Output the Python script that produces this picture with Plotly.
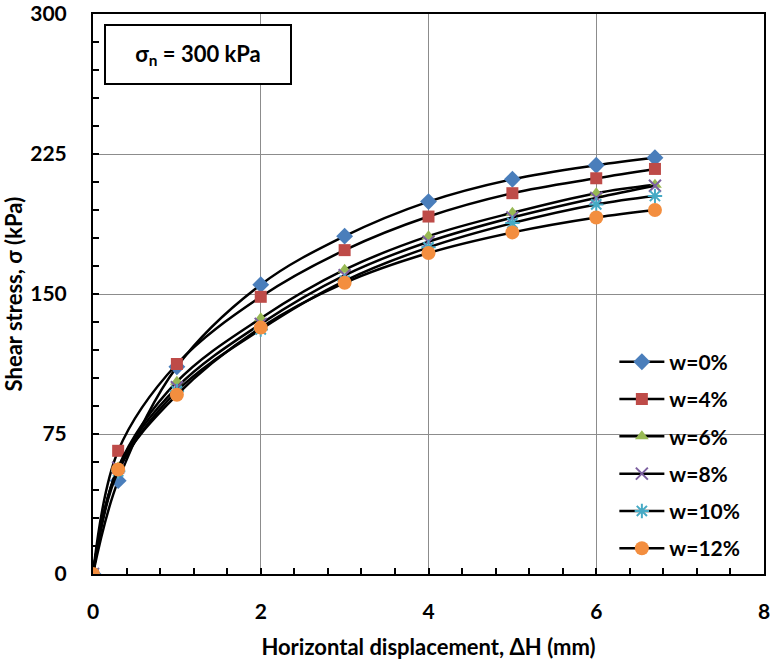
import plotly.graph_objects as go

# ---- data ----
displacement = [0, 0.3, 1, 2, 3, 4, 5, 6, 6.7]
w0 = [0, 50, 111, 155, 181, 199.5, 211.5, 219, 223]
w4 = [0, 66, 112.5, 148.5, 173.5, 191.5, 204, 212, 217]
w6 = [0, 57, 103, 137, 163, 181, 193.5, 204, 208.5]
w8 = [0, 57, 100, 134, 160, 178, 191, 201.5, 208]
w10 = [0, 55, 98, 131, 157, 175, 188, 198, 202.5]
w12 = [0, 56, 96, 132, 156, 172, 183, 191, 195]
series_names = ["w=0%", "w=4%", "w=6%", "w=8%", "w=10%", "w=12%"]
x_ticks = [0, 2, 4, 6, 8]
y_ticks = [0, 75, 150, 225, 300]

FONT = "Lato"
styles = [
    dict(symbol="diamond", color="#4A7EBB", size=13, line=dict(width=0)),
    dict(symbol="square", color="#BE4B48", size=12, line=dict(width=0)),
    dict(symbol="triangle-up", color="#98B954", size=12, line=dict(width=0)),
    dict(symbol="x-thin", color="#7D60A0", size=12, line=dict(width=2, color="#7D60A0")),
    dict(symbol="asterisk", color="#46AAC5", size=12, line=dict(width=2, color="#46AAC5")),
    dict(symbol="circle", color="#F38E3F", size=14, line=dict(width=0)),
]

fig = go.Figure()
for i, (name, ys) in enumerate(zip(series_names, [w0, w4, w6, w8, w10, w12])):
    fig.add_trace(go.Scatter(
        x=displacement, y=ys, name=name, mode="lines+markers",
        line=dict(color="black", width=2.5, shape="spline", smoothing=1.0),
        marker=styles[i], legendgroup=name,
    ))

axis_common = dict(
    showline=True, linecolor="black", linewidth=2, mirror=True,
    showgrid=True, gridcolor="#8C8C8C", gridwidth=1,
    ticks="inside", ticklen=6, tickcolor="black", tickwidth=1.5,
    tickfont=dict(family=FONT, size=21, color="black", weight="bold"),
    zeroline=False, ticklabeloverflow="allow", automargin=False,
)

fig.update_xaxes(
    range=[0, 8], tickvals=x_ticks,
    minor=dict(dtick=0.4, ticks="inside", ticklen=6, tickcolor="black", tickwidth=1.5, showgrid=False),
    title=dict(text="Horizontal displacement, ΔH (mm)",
               font=dict(family=FONT, size=22, color="black", weight="bold"), standoff=18),
    ticklabelstandoff=18,
    **axis_common,
)
fig.update_yaxes(
    range=[0, 300], tickvals=y_ticks,
    minor=dict(dtick=15, ticks="inside", ticklen=6, tickcolor="black", tickwidth=1.5, showgrid=False),
    title=dict(text="Shear stress, σ (kPa)",
               font=dict(family=FONT, size=22, color="black", weight="bold"), standoff=8),
    ticklabelstandoff=20,
    **axis_common,
)

fig.add_annotation(
    xref="paper", yref="paper", x=0.016, y=0.982, xanchor="left", yanchor="top",
    text="σ<sub>n</sub> = 300 kPa", showarrow=False,
    font=dict(family=FONT, size=22, color="black", weight="bold"),
    bordercolor="black", borderwidth=2, bgcolor="white",
    width=182, height=55, align="center",
)

fig.update_layout(
    width=771, height=660,
    margin=dict(l=93, r=7, t=14, b=86),
    plot_bgcolor="white", paper_bgcolor="white",
    legend=dict(
        x=0.777, y=0.415, xanchor="left", yanchor="top",
        bgcolor="rgba(0,0,0,0)", tracegroupgap=7, itemwidth=45,
        font=dict(family=FONT, size=21, color="black", weight="bold"),
    ),
    showlegend=True,
)

fig.write_html("out.html")
